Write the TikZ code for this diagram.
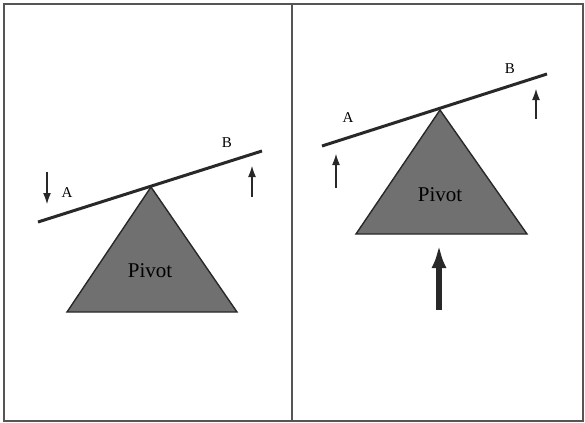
\documentclass[tikz,border=0pt]{standalone}
\usepackage{fontspec}
\setmainfont{Liberation Serif}
\usepackage{xcolor}
\usepackage{tikz}
\usetikzlibrary{arrows.meta,positioning}
\definecolor{ink}{RGB}{40,40,40}
\definecolor{pivotfill}{RGB}{112,112,112}
\definecolor{framegray}{RGB}{85,85,85}

\begin{document}
\begin{tikzpicture}[
  x=0.5pt, y=-0.5pt,
  frame/.style={draw=framegray, line width=1pt},
  beam/.style={draw=ink, line width=1.5pt},
  pivot/.style={draw=ink, fill=pivotfill, line width=0.7pt},
  lbl/.style={font=\fontsize{7.5}{9}\selectfont, text=black, inner sep=0pt, anchor=base},
  pivotlbl/.style={font=\fontsize{10.5}{12}\selectfont, text=black, inner sep=0pt, anchor=base},
  force/.style={-{Latex[length=6pt, width=4pt]}, draw=ink, line width=1.1pt},
  bigforce/.style={-{Latex[length=11.5pt, width=7.5pt]}, draw=ink, line width=3pt}
]
\useasboundingbox (0,0) rectangle (585,423);
% frame
\draw[frame] (4,4) rectangle (583,421);
\draw[frame] (292,4) -- (292,421);
% left panel: A pushed down, B pushed up
\coordinate (l-apex) at (151,187);
\filldraw[pivot] (l-apex) -- (67,312) -- (237,312) -- cycle;
\node[pivotlbl] (l-pivot) at (150,278) {Pivot};
\coordinate (l-beamA) at (38,222);
\coordinate (l-beamB) at (262,151);
\draw[beam] (l-beamA) -- (l-beamB);
\node[lbl] (l-A) at (67,197) {A};
\node[lbl] (l-B) at (227,148) {B};
\coordinate (l-fA0) at (47,172);
\coordinate (l-fA1) at (47,205);
\coordinate (l-fB0) at (252,197);
\coordinate (l-fB1) at (252,165);
\draw[force] (l-fA0) -- (l-fA1);
\draw[force] (l-fB0) -- (l-fB1);
% right panel: both ends up, pivot pushed up
\coordinate (r-apex) at (440,110);
\filldraw[pivot] (r-apex) -- (356,234) -- (527,234) -- cycle;
\node[pivotlbl] (r-pivot) at (440,201) {Pivot};
\coordinate (r-beamA) at (322,146);
\coordinate (r-beamB) at (547,74);
\draw[beam] (r-beamA) -- (r-beamB);
\node[lbl] (r-A) at (348,122) {A};
\node[lbl] (r-B) at (510,73) {B};
\coordinate (r-fA0) at (336,188);
\coordinate (r-fA1) at (336,153);
\coordinate (r-fB0) at (536,119);
\coordinate (r-fB1) at (536,88);
\coordinate (r-fP0) at (439,310);
\coordinate (r-fP1) at (439,245);
\draw[force] (r-fA0) -- (r-fA1);
\draw[force] (r-fB0) -- (r-fB1);
\draw[bigforce] (r-fP0) -- (r-fP1);
\end{tikzpicture}
\end{document}
